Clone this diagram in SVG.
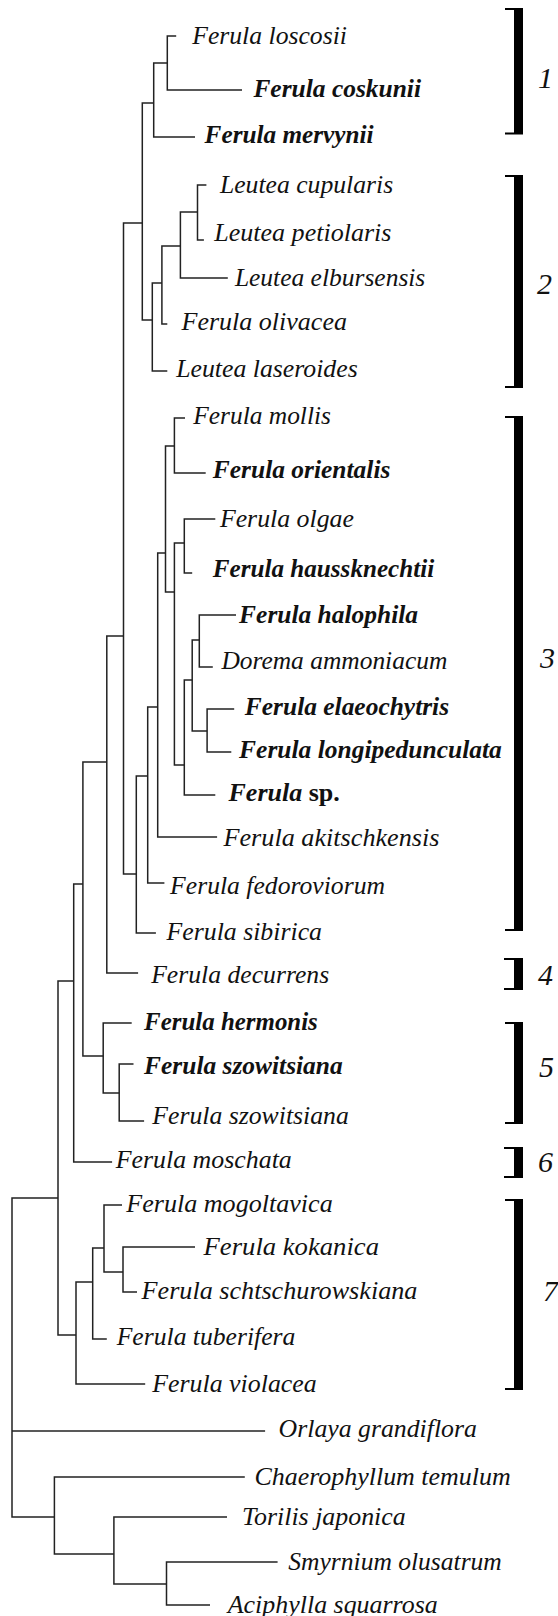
<svg xmlns="http://www.w3.org/2000/svg" width="558" height="1616" viewBox="0 0 558 1616">
<style>
.t{font-family:"Liberation Serif","Times New Roman",serif;font-style:italic;font-size:26px;fill:#111}
.b{font-weight:bold}
.up{font-style:normal}
.e{fill:none;stroke:#222;stroke-width:1.5}
.bar{fill:#000}
.num{font-family:"Liberation Serif","Times New Roman",serif;font-style:italic;font-size:30px;fill:#111}
</style>
<rect width="558" height="1616" fill="#fff"/>
<g id="connectors" class="e">
<path d="M176.2,36H167.3V90H242"/>
<path d="M167.3,63H153.7V137H195"/>
<path d="M153.7,103H142.3V320H152.3"/>
<path d="M206.4,185H197.5V240H203.9"/>
<path d="M197.5,212H180.4V278H227.8"/>
<path d="M180.4,246H161.9V324H167.3"/>
<path d="M161.9,283H152.3V371H167.3"/>
<path d="M142.3,223H123.5V874H136.3"/>
<path d="M185,418H174.4V473H205.7"/>
<path d="M215.3,519H184.3V573H192.2"/>
<path d="M236,615H199.3V667H212.8"/>
<path d="M234.2,709H207.1V752H231.3"/>
<path d="M199.3,640H192.2V731H207.1"/>
<path d="M192.2,680H184.3V795H215.3"/>
<path d="M184.3,543H174.4V765H184.3"/>
<path d="M174.4,446H165.5V592H174.4"/>
<path d="M165.5,553H157.7V837H217.1"/>
<path d="M157.7,707H147.7V883H164.4"/>
<path d="M147.7,776H136.3V933H155.9"/>
<path d="M123.5,636H106.8V973H138.1"/>
<path d="M133.5,1064H119.2V1121H144.1"/>
<path d="M131.7,1023H103.2V1093H119.2"/>
<path d="M106.8,762H82.9V1056H103.2"/>
<path d="M82.9,884H73.7V1162H112.1"/>
<path d="M195,1247H123V1292H137"/>
<path d="M122,1205H104V1272H123"/>
<path d="M104,1248H92.7V1339H106.8"/>
<path d="M92.7,1282H76V1384H145.2"/>
<path d="M73.7,981H58V1335H76"/>
<path d="M277.6,1562H166.5V1605H210"/>
<path d="M227,1517H113.9V1584H166.5"/>
<path d="M244.8,1477H54.4V1554H113.9"/>
<path d="M58,1198H12V1517H54.4"/>
<path d="M12,1431H265.1"/>
</g>
<g id="leaf-loscosii"><text class="t" x="192.2" y="44" textLength="154.8" lengthAdjust="spacingAndGlyphs">Ferula loscosii</text></g>
<g id="leaf-coskunii"><text class="t b" x="253.4" y="97.3" textLength="167.6" lengthAdjust="spacingAndGlyphs">Ferula coskunii</text></g>
<g id="leaf-mervynii"><text class="t b" x="204.6" y="142.7" textLength="169" lengthAdjust="spacingAndGlyphs">Ferula mervynii</text></g>
<g id="leaf-cupularis"><text class="t" x="219.9" y="193" textLength="173.3" lengthAdjust="spacingAndGlyphs">Leutea cupularis</text></g>
<g id="leaf-petiolaris"><text class="t" x="214.2" y="241" textLength="177.3" lengthAdjust="spacingAndGlyphs">Leutea petiolaris</text></g>
<g id="leaf-elbursensis"><text class="t" x="234.9" y="286" textLength="190.4" lengthAdjust="spacingAndGlyphs">Leutea elbursensis</text></g>
<g id="leaf-olivacea"><text class="t" x="181.5" y="330" textLength="165.5" lengthAdjust="spacingAndGlyphs">Ferula olivacea</text></g>
<g id="leaf-laseroides"><text class="t" x="176.2" y="377" textLength="181.5" lengthAdjust="spacingAndGlyphs">Leutea laseroides</text></g>
<g id="leaf-mollis"><text class="t" x="193.2" y="424" textLength="137.8" lengthAdjust="spacingAndGlyphs">Ferula mollis</text></g>
<g id="leaf-orientalis"><text class="t b" x="212.8" y="478" textLength="177.6" lengthAdjust="spacingAndGlyphs">Ferula orientalis</text></g>
<g id="leaf-olgae"><text class="t" x="219.9" y="527" textLength="134.1" lengthAdjust="spacingAndGlyphs">Ferula olgae</text></g>
<g id="leaf-haussknechtii"><text class="t b" x="212.8" y="577" textLength="221.4" lengthAdjust="spacingAndGlyphs">Ferula haussknechtii</text></g>
<g id="leaf-halophila"><text class="t b" x="239.1" y="623" textLength="179" lengthAdjust="spacingAndGlyphs">Ferula halophila</text></g>
<g id="leaf-ammoniacum"><text class="t" x="221.4" y="669" textLength="225.9" lengthAdjust="spacingAndGlyphs">Dorema ammoniacum</text></g>
<g id="leaf-elaeochytris"><text class="t b" x="244.8" y="715" textLength="204.3" lengthAdjust="spacingAndGlyphs">Ferula elaeochytris</text></g>
<g id="leaf-longipedunculata"><text class="t b" x="239.1" y="758" textLength="262.7" lengthAdjust="spacingAndGlyphs">Ferula longipedunculata</text></g>
<g id="leaf-sp"><text class="t b" x="228.5" y="801">Ferula <tspan class="up">sp.</tspan></text></g>
<g id="leaf-akitschkensis"><text class="t" x="223.5" y="846" textLength="216" lengthAdjust="spacingAndGlyphs">Ferula akitschkensis</text></g>
<g id="leaf-fedoroviorum"><text class="t" x="170.1" y="894" textLength="214.9" lengthAdjust="spacingAndGlyphs">Ferula fedoroviorum</text></g>
<g id="leaf-sibirica"><text class="t" x="166.5" y="940" textLength="155.5" lengthAdjust="spacingAndGlyphs">Ferula sibirica</text></g>
<g id="leaf-decurrens"><text class="t" x="151.2" y="983" textLength="178" lengthAdjust="spacingAndGlyphs">Ferula decurrens</text></g>
<g id="leaf-hermonis"><text class="t b" x="144.1" y="1030" textLength="173.7" lengthAdjust="spacingAndGlyphs">Ferula hermonis</text></g>
<g id="leaf-szowitsiana-1"><text class="t b" x="144.1" y="1074" textLength="198.6" lengthAdjust="spacingAndGlyphs">Ferula szowitsiana</text></g>
<g id="leaf-szowitsiana-2"><text class="t" x="152.3" y="1124" textLength="196.5" lengthAdjust="spacingAndGlyphs">Ferula szowitsiana</text></g>
<g id="leaf-moschata"><text class="t" x="115.7" y="1168" textLength="176.1" lengthAdjust="spacingAndGlyphs">Ferula moschata</text></g>
<g id="leaf-mogoltavica"><text class="t" x="126.3" y="1212" textLength="206.4" lengthAdjust="spacingAndGlyphs">Ferula mogoltavica</text></g>
<g id="leaf-kokanica"><text class="t" x="203.6" y="1255" textLength="175.4" lengthAdjust="spacingAndGlyphs">Ferula kokanica</text></g>
<g id="leaf-schtschurowskiana"><text class="t" x="141.6" y="1299" textLength="275.8" lengthAdjust="spacingAndGlyphs">Ferula schtschurowskiana</text></g>
<g id="leaf-tuberifera"><text class="t" x="116.7" y="1345" textLength="178.7" lengthAdjust="spacingAndGlyphs">Ferula tuberifera</text></g>
<g id="leaf-violacea"><text class="t" x="152.3" y="1392" textLength="164.4" lengthAdjust="spacingAndGlyphs">Ferula violacea</text></g>
<g id="leaf-orlaya"><text class="t" x="278.6" y="1437" textLength="198.3" lengthAdjust="spacingAndGlyphs">Orlaya grandiflora</text></g>
<g id="leaf-chaerophyllum"><text class="t" x="254.4" y="1485" textLength="256.3" lengthAdjust="spacingAndGlyphs">Chaerophyllum temulum</text></g>
<g id="leaf-torilis"><text class="t" x="242" y="1525" textLength="163.7" lengthAdjust="spacingAndGlyphs">Torilis japonica</text></g>
<g id="leaf-smyrnium"><text class="t" x="288.3" y="1570" textLength="213.5" lengthAdjust="spacingAndGlyphs">Smyrnium olusatrum</text></g>
<g id="leaf-aciphylla"><text class="t" x="227.8" y="1613" textLength="209.9" lengthAdjust="spacingAndGlyphs">Aciphylla squarrosa</text></g>
<g id="clade-1"><path class="bar" d="M505,8h18v126.5h-18v-2h9v-122.5h-9z"/><text class="num" x="538" y="88">1</text></g>
<g id="clade-2"><path class="bar" d="M505,175h18v213h-18v-2h9v-209h-9z"/><text class="num" x="537" y="294">2</text></g>
<g id="clade-3"><path class="bar" d="M505,416h18v515h-18v-2h9v-511h-9z"/><text class="num" x="540" y="668">3</text></g>
<g id="clade-4"><path class="bar" d="M504,958h19v32h-19v-2h10v-28h-10z"/><text class="num" x="538" y="985">4</text></g>
<g id="clade-5"><path class="bar" d="M505,1022h18v102h-18v-2h9v-98h-9z"/><text class="num" x="539" y="1077">5</text></g>
<g id="clade-6"><path class="bar" d="M504,1147h19v31h-19v-2h10v-27h-10z"/><text class="num" x="538" y="1172">6</text></g>
<g id="clade-7"><path class="bar" d="M505,1199h18v191h-18v-2h9v-187h-9z"/><text class="num" x="543" y="1301">7</text></g>
</svg>
